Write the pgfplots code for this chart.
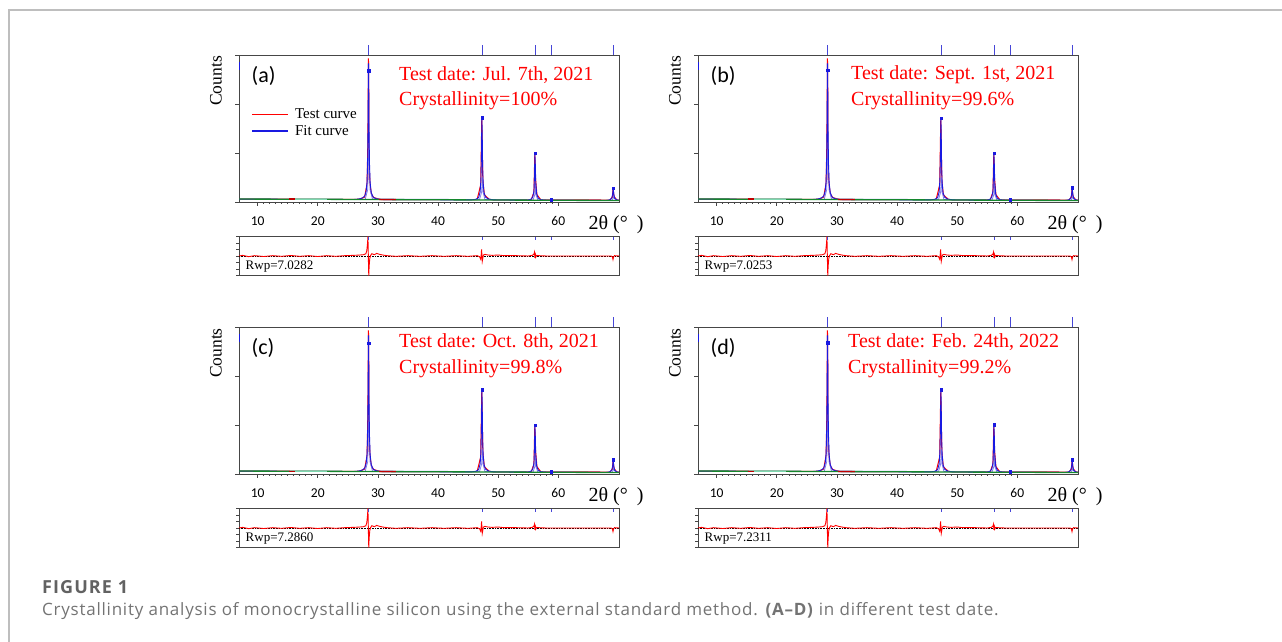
\documentclass[border=0pt]{standalone}
\usepackage{fontspec}
\setmainfont{Liberation Serif}
\newfontfamily\calib{Carlito}
\newfontfamily\osans{Open Sans}
\usepackage{pgfplots}
\pgfplotsset{compat=1.18}
\usepackage{pgfplotstable}

\definecolor{fitblue}{RGB}{25,25,225}
\definecolor{reflblue}{RGB}{70,70,215}
\definecolor{compblue}{RGB}{125,125,235}
\definecolor{bggreen}{RGB}{20,135,45}
\definecolor{mint}{RGB}{125,215,175}
\definecolor{framegray}{RGB}{190,190,190}
\definecolor{axgray}{RGB}{70,70,70}
\definecolor{capgray}{RGB}{115,115,115}

% fit curve (blue)
\pgfplotstableread{
x y
6.9 0.06
26.0 0.051
26.8 0.06
27.4 0.08
27.8 0.12
28.05 0.22
28.2 0.42
28.3 0.85
28.37 1.7
28.42 2.82
28.46 2.82
28.52 1.5
28.6 0.8
28.7 0.4
28.9 0.19
29.2 0.1
29.7 0.065
30.5 0.05
45.5 0.042
46.3 0.055
46.75 0.09
47.0 0.2
47.13 0.45
47.22 0.95
47.29 1.70
47.34 1.5
47.41 0.8
47.5 0.4
47.65 0.19
47.9 0.1
48.4 0.06
49.3 0.042
54.8 0.037
55.4 0.05
55.75 0.1
55.95 0.22
56.04 0.52
56.11 0.98
56.17 0.82
56.25 0.4
56.4 0.17
56.65 0.08
57.1 0.045
58.0 0.036
68.0 0.031
68.6 0.045
68.9 0.08
69.05 0.17
69.13 0.28
69.21 0.19
69.35 0.08
69.7 0.045
70.1 0.035
}\fitdata

% test curve (red)
\pgfplotstableread{
x y
6.9 0.06
26.0 0.051
27.0 0.06
27.8 0.1
28.2 0.38
28.33 1.2
28.40 2.4
28.43 2.93
28.47 2.6
28.53 0.45
28.6 0.6
28.7 0.36
28.9 0.17
29.3 0.09
30.5 0.05
46.5 0.05
47.1 0.35
47.28 1.72
47.35 1.2
47.45 0.45
47.7 0.15
48.5 0.055
49.3 0.042
55.5 0.045
55.95 0.2
56.10 1.0
56.2 0.5
56.45 0.15
57.1 0.045
68.6 0.04
69.0 0.1
69.12 0.29
69.25 0.12
69.7 0.045
70.1 0.035
}\testdata

% second component (light blue)
\pgfplotstableread{
x y
27.9 0.06
28.3 0.25
28.45 0.9
28.50 1.6
28.56 0.9
28.7 0.25
29.1 0.06
46.9 0.05
47.25 0.2
47.38 0.5
47.5 0.2
47.8 0.05
55.8 0.04
56.1 0.15
56.2 0.37
56.3 0.15
56.6 0.04
68.9 0.035
69.15 0.08
69.22 0.12
69.3 0.08
69.6 0.035
}\compdata

% background (green)
\pgfplotstableread{
x y
6.9 0.06
20 0.055
30 0.05
40 0.045
50 0.04
60 0.035
70.1 0.03
}\bgdata

% residual (test - fit)
\pgfplotstableread{
x y
6.9 0
7.5 0.1
8.5 -0.1
9.5 0.05
11 -0.08
12.5 0.05
14 -0.05
15.5 0.08
17 -0.05
18.5 0.05
20 -0.08
21.5 0.05
23 -0.05
24.5 0.05
26 0.1
27 0.15
27.6 0.2
28.0 0.35
28.15 0.8
28.28 2.0
28.34 3.0
28.39 1.0
28.44 -1.5
28.48 -3.0
28.55 -1.5
28.65 -0.4
28.8 0.1
29.0 0.35
29.4 0.2
29.8 0.4
30.3 0.25
30.8 0.15
31.5 0.05
33 -0.05
35 0.05
37 -0.05
39 0.05
41 -0.05
43 0.05
45 -0.05
46.5 0.05
46.9 -0.1
47.1 -0.5
47.18 0.2
47.24 1.0
47.3 0.2
47.36 -0.8
47.44 -0.4
47.55 0.15
47.8 0.25
48.3 0.15
49 0.1
50 0.15
51 0.05
53 0.05
55 0
55.7 0.1
55.95 0.3
56.05 0.6
56.1 -0.3
56.16 0.5
56.24 -0.2
56.4 0.1
56.8 0.05
58 0
62 0
66 0
68.8 0
69.0 -0.15
69.1 -0.55
69.2 -0.15
69.35 0.05
70.1 0
}\resdata

% reflection positions (markers above the frame and in the residual)
\pgfplotstableread{
x y
28.44 3.1
47.30 3.1
56.12 3.1
58.86 3.1
69.13 3.1
}\refldata
\pgfplotstableread{
x y
28.44 2.75
47.30 2.75
56.12 2.75
58.86 2.75
69.13 2.75
}\reflres

% calculated peak intensities (dots) per panel
\pgfplotstableread{
x y
28.44 2.68
47.30 1.72
56.12 0.99
58.86 0.05
69.13 0.28
}\dotsa
\pgfplotstableread{
x y
28.44 2.69
47.30 1.71
56.12 1.00
58.86 0.05
69.13 0.29
}\dotsb
\pgfplotstableread{
x y
28.44 2.67
47.30 1.72
56.12 1.00
58.86 0.05
69.13 0.29
}\dotsc
\pgfplotstableread{
x y
28.44 2.68
47.30 1.72
56.12 1.01
58.86 0.05
69.13 0.29
}\dotsd

\pgfplotsset{
  xrdmain/.style={
    scale only axis, width=380pt, height=147pt, anchor=north west,
    xmin=6.9, xmax=70.1, ymin=0, ymax=3, clip=false,
    axis line style={axgray, line width=0.8pt},
    xtick={10,20,30,40,50,60}, minor x tick num=9,
    ytick={0,1,2,3}, yticklabels={},
    xtick pos=bottom, ytick pos=left, tick align=outside,
    major tick length=4pt, minor tick length=2pt,
    every tick/.style={axgray, line width=0.6pt},
    xticklabel style={font=\calib\fontsize{13.5}{13.5}\selectfont, text=black, yshift=-7pt},
    /pgf/number format/assume math mode=true,
  },
  xrdres/.style={
    scale only axis, width=380pt, height=39pt, anchor=north west,
    xmin=6.9, xmax=70.1, ymin=-3, ymax=3, clip=false,
    axis line style={axgray, line width=0.8pt},
    xtick=\empty, ytick={-3,-2,-1,0,1,2,3}, yticklabels={},
    ytick pos=left, tick align=outside, major tick length=3pt,
    every tick/.style={axgray, line width=0.6pt},
  },
  legleg/.style={
    legend entries={Test curve, Fit curve},
    legend style={draw=none, fill=none, at={(0.025,0.655)}, anchor=north west,
      font=\fontsize{15}{15}\selectfont, row sep=3pt, column sep=5pt,
      nodes={inner sep=1pt}},
    legend cell align=left,
    legend image code/.code={\draw[##1, line width=1.3pt] (0pt,0pt) -- (36pt,0pt);},
  },
}

% #1 x, #2 y of the main frame's top left corner; #3 letter; #4 date;
% #5 crystallinity; #6 Rwp; #7 dots table; #8 text offset; #9 extra axis options
\newcommand\panel[9]{%
  \begin{axis}[xrdmain, at={(#1pt,#2pt)}, #9]
    \addplot[red, line width=1pt] table {\testdata};
    \addplot[compblue, line width=0.8pt, forget plot] table {\compdata};
    \addplot[fitblue, line width=0.9pt] table {\fitdata};
    \addplot[bggreen, line width=1.3pt, forget plot] table {\bgdata};
    \addplot[mint, line width=1.3pt, forget plot] coordinates {(16.2,0.056) (21.5,0.054)};
    \addplot[red!75!black, line width=1.3pt, forget plot] coordinates {(15.2,0.058) (16.2,0.058)};
    \addplot[red!75!black, line width=1.3pt, forget plot] coordinates {(30.2,0.052) (33,0.051)};
    \addplot[fitblue, line width=1pt, forget plot] coordinates {(7.0,2.70) (7.0,2.86)};
    \addplot[only marks, mark=square*, mark size=1.2pt, fitblue, forget plot] table {#7};
    \addplot[only marks, mark=|, mark size=5pt, reflblue, line width=0.8pt, forget plot] table {\refldata};
  \end{axis}
  \begin{axis}[xrdres, at={(#1pt,#2pt-181.5pt)}]
    \addplot[black, densely dotted, line width=0.6pt] coordinates {(6.9,0) (70.1,0)};
    \addplot[red, line width=0.9pt] table {\resdata};
    \addplot[only marks, mark=|, mark size=1.5pt, reflblue, line width=0.8pt] table {\reflres};
  \end{axis}
  \begin{scope}[shift={(#1pt,#2pt)}]
    \node[rotate=90, anchor=east, inner sep=0pt, font=\fontsize{17.5}{17.5}\selectfont] at (-23pt,-1pt) {Counts};
    \node[anchor=west, inner sep=0pt, font=\calib\fontsize{22}{22}\selectfont] at (12.5pt,-20.5pt) {(#3)};
    \node[anchor=west, inner sep=0pt, text=red, font=\fontsize{20}{20}\selectfont] at (#8) {Test date: #4};
    \node[anchor=west, inner sep=0pt, text=red, font=\fontsize{20}{20}\selectfont] at ([yshift=-26pt]#8) {Crystallinity=#5\%};
    \node[inner sep=0pt, font=\fontsize{20}{20}\selectfont] at (377pt,-170pt) {2θ (°\hspace{0.45em})};
    \node[anchor=west, inner sep=0pt, font=\fontsize{13}{13}\selectfont] at (6.5pt,-212pt) {Rwp=#6};
  \end{scope}
}

\begin{document}
\begin{tikzpicture}[x=1pt,y=1pt]
\path[use as bounding box] (0,0) rectangle (1282,642);
\draw[framegray, line width=1.5pt] (9,0) -- (9,632) -- (1282,632);

\panel{239}{587}{a}{Jul. 7th, 2021}{100}{7.0282}{\dotsa}{160pt,-20pt}{legleg}
\panel{698}{587}{b}{Sept. 1st, 2021}{99.6}{7.0253}{\dotsb}{153pt,-20pt}{}
\panel{239}{315}{c}{Oct. 8th, 2021}{99.8}{7.2860}{\dotsc}{160pt,-15.5pt}{}
\panel{698}{315}{d}{Feb. 24th, 2022}{99.2}{7.2311}{\dotsd}{150pt,-15.5pt}{}

\node[anchor=west, inner sep=0pt, text=capgray!85!black, font=\osans\bfseries\fontsize{18}{18}\selectfont\addfontfeature{LetterSpace=6}] at (42pt,55pt) {FIGURE 1};
\node[anchor=west, inner sep=0pt, text=capgray, font=\osans\fontsize{17}{17}\selectfont\addfontfeature{LetterSpace=4.5}] at (42pt,31pt) {Crystallinity analysis of monocrystalline silicon using the external standard method. \textbf{(A–D)} in different test date.};
\end{tikzpicture}
\end{document}
